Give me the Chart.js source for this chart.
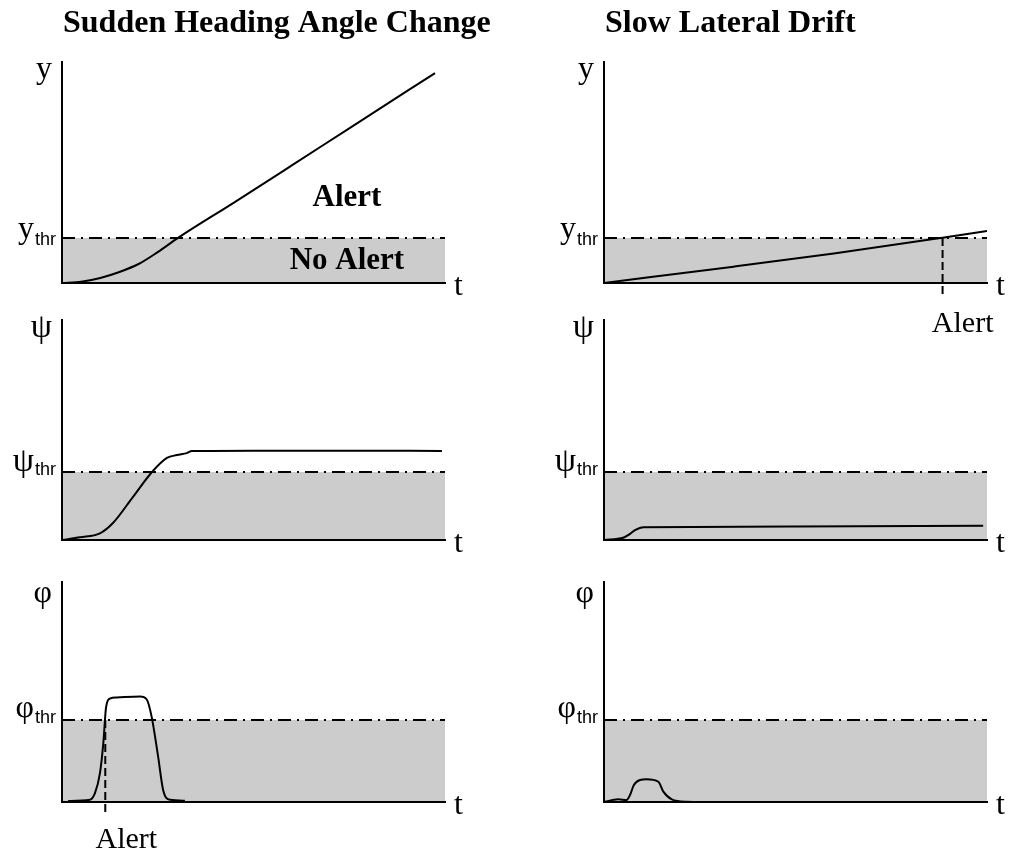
<!DOCTYPE html>
<html>
<head>
<meta charset="utf-8">
<title>Alert regions</title>
<script src="https://cdn.jsdelivr.net/npm/chart.js@4.4.1/dist/chart.umd.min.js"></script>
<style>
  html, body { margin: 0; padding: 0; background: #fff; }
  #wrap { position: relative; width: 1010px; height: 852px; }
  #wrap canvas { position: absolute; left: 0; top: 0; }
</style>
</head>
<body>
<div id="wrap"></div>
<script>
// time runs 0..100 and every quantity 0..100 in each panel (no real units)

// Sudden heading angle change (left column)
const headTimeY = [0, 5, 10, 15, 20, 25, 30.3, 45, 60, 75, 97.4];
const headY = [0, 0.6, 2.3, 5, 8.6, 14, 20.4, 36.5, 53.2, 70, 95];
const headTimePsi = [0, 4.7, 9.9, 13.3, 18.5, 23.5, 27.4, 30, 32.6, 33.9, 50, 75, 99.2];
const headPsi = [0, 1.2, 3, 7.7, 19.5, 30.9, 37.3, 38.6, 39.5, 40.4, 40.6, 40.6, 40.5];
const headTimePhi = [1.6, 7.3, 8.6, 9.9, 10.8, 11.5, 12.5, 14.3, 20.4, 22.1, 23.4, 25.1, 26.4, 28.2, 32.1];
const headPhi = [0.5, 1, 4, 13, 27, 43, 47, 47.5, 48, 46.7, 38.8, 20.6, 5.5, 1, 0.6];

// Slow lateral drift (right column)
const driftTimeY = [0, 33.8, 60, 88.4, 100];
const driftY = [0, 7.4, 13.4, 20.5, 23.5];
const driftTimePsi = [0, 5, 6.4, 8.1, 10.3, 50, 99];
const driftPsi = [0, 1, 2.3, 4.5, 5.8, 6.1, 6.5];
const driftTimePhi = [0, 3.7, 5.9, 6.8, 7.8, 9.4, 11.1, 14.2, 15.5, 17.7, 21.6, 26.8];
const driftPhi = [0, 1.2, 0.9, 3.2, 7.7, 10, 10.3, 9.2, 4.7, 1.2, 0.1, 0];

// thresholds
const yThr = 20.4;
const psiThr = 30.9;
const phiThr = 37.3;

// alert instants
const headAlertTime = 11.3;
const driftAlertTime = 88.4;

const SERIF = "'Liberation Serif', 'Times New Roman', serif";
const SANS = "'Liberation Sans', Arial, sans-serif";
const W = 1010, H = 852;

function zip(t, v) {
  return t.map((x, i) => ({ x: x, y: v[i] }));
}

// box = [left, top, right, bottom] of the plot area in page pixels
const panels = [
  { box: [62, 62, 445, 283], t: headTimeY, v: headY, thr: yThr, sym: 'y', symSize: 32, symDy: 16, thrDy: 0, subDy: 7,
    title: 'Sudden Heading Angle Change',
    notes: [
      { text: 'Alert', x: 74.4, y: 34.8, bold: true, align: 'center' },
      { text: 'No Alert', x: 74.4, y: 6.3, bold: true, align: 'center' }
    ] },
  { box: [62, 320, 445, 540], t: headTimePsi, v: headPsi, thr: psiThr, sym: 'ψ', symSize: 34, symDy: 17, thrDy: -1, subDy: 3 },
  { box: [62, 582, 445, 802], t: headTimePhi, v: headPhi, thr: phiThr, sym: 'φ', symSize: 32, symDy: 20, thrDy: -3, subDy: 3,
    alert: { x: headAlertTime, to: -5.9 },
    notes: [ { text: 'Alert', x: 16.8, y: -20.9, align: 'center' } ] },
  { box: [604, 62, 987, 283], t: driftTimeY, v: driftY, thr: yThr, sym: 'y', symSize: 32, symDy: 16, thrDy: 0, subDy: 7,
    title: 'Slow Lateral Drift',
    alert: { x: driftAlertTime, to: -6.8 },
    notes: [ { text: 'Alert', x: 85.6, y: -22.2, align: 'left' } ] },
  { box: [604, 320, 987, 540], t: driftTimePsi, v: driftPsi, thr: psiThr, sym: 'ψ', symSize: 34, symDy: 17, thrDy: -1, subDy: 3 },
  { box: [604, 582, 987, 802], t: driftTimePhi, v: driftPhi, thr: phiThr, sym: 'φ', symSize: 32, symDy: 20, thrDy: -3, subDy: 3 }
];

function labelPlugin(p) {
  return {
    id: 'panelLabels',
    afterDraw(chart) {
      const ctx = chart.ctx, a = chart.chartArea;
      const xs = chart.scales.x, ys = chart.scales.y;
      ctx.save();
      ctx.fillStyle = '#000';
      ctx.textBaseline = 'alphabetic';

      if (p.title) {
        ctx.font = 'bold 32px ' + SERIF;
        ctx.textAlign = 'left';
        ctx.fillText(p.title, a.left + 1, 32);
      }

      // axis names
      ctx.font = p.symSize + 'px ' + SERIF;
      ctx.textAlign = 'right';
      ctx.fillText(p.sym, a.left - 10, a.top + p.symDy);

      ctx.textAlign = 'left';
      ctx.font = '32px ' + SERIF;
      ctx.fillText('t', a.right + 9, a.bottom + 12);

      // threshold label: symbol + "thr"
      const ty = ys.getPixelForValue(p.thr);
      ctx.font = '18px ' + SANS;
      const subW = ctx.measureText('thr').width;
      const rightEdge = a.left - 6;
      ctx.textAlign = 'right';
      ctx.fillText('thr', rightEdge, ty + p.subDy);
      ctx.font = p.symSize + 'px ' + SERIF;
      ctx.fillText(p.sym, rightEdge - subW - 1, ty + p.thrDy);

      (p.notes || []).forEach(n => {
        ctx.font = (n.bold ? 'bold 31px ' : '30px ') + SERIF;
        ctx.textAlign = n.align;
        ctx.fillText(n.text, xs.getPixelForValue(n.x), ys.getPixelForValue(n.y));
      });
      ctx.restore();
    }
  };
}

const wrap = document.getElementById('wrap');

panels.forEach(p => {
  const canvas = document.createElement('canvas');
  canvas.width = W;
  canvas.height = H;
  canvas.style.width = W + 'px';
  canvas.style.height = H + 'px';
  wrap.appendChild(canvas);

  const datasets = [
    {
      data: zip(p.t, p.v),
      borderColor: '#000',
      borderWidth: 2,
      pointRadius: 0,
      cubicInterpolationMode: 'monotone',
      fill: false,
      order: 0
    },
    {
      data: [{ x: 0, y: p.thr }, { x: 100, y: p.thr }],
      borderColor: '#000',
      borderWidth: 2,
      borderDash: [13, 6, 2, 6],
      pointRadius: 0,
      fill: 'start',
      backgroundColor: '#cccccc',
      order: 2
    }
  ];
  if (p.alert) {
    datasets.push({
      data: [{ x: p.alert.x, y: p.thr }, { x: p.alert.x, y: p.alert.to }],
      borderColor: '#000',
      borderWidth: 2,
      borderDash: [8, 4],
      pointRadius: 0,
      fill: false,
      clip: false,
      order: 1
    });
  }

  const axis = {
    type: 'linear',
    min: 0,
    max: 100,
    grid: { display: false, drawTicks: false, tickLength: 0 },
    ticks: { display: false },
    border: { display: true, color: '#000', width: 2, z: 1 }
  };

  new Chart(canvas.getContext('2d'), {
    type: 'line',
    data: { datasets: datasets },
    options: {
      responsive: false,
      animation: false,
      devicePixelRatio: 1,
      layout: {
        padding: { left: p.box[0], top: p.box[1], right: W - p.box[2], bottom: H - p.box[3] }
      },
      scales: { x: Object.assign({}, axis), y: Object.assign({}, axis) },
      plugins: { legend: { display: false }, tooltip: { enabled: false } }
    },
    plugins: [labelPlugin(p)]
  });
});
</script>
</body>
</html>
